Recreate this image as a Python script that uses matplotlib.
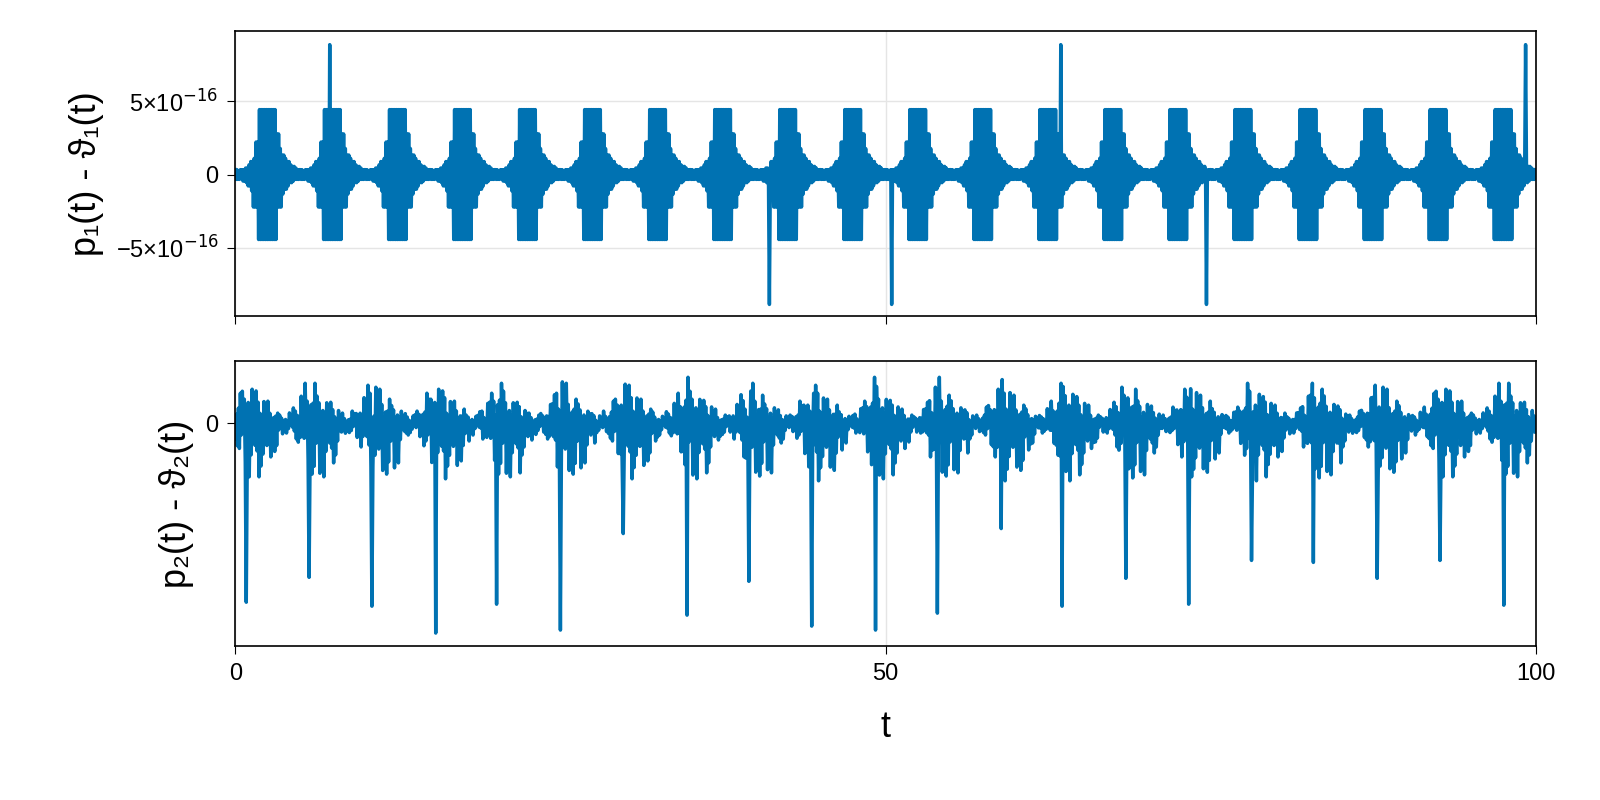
import numpy as np
import matplotlib.pyplot as plt

plt.rcParams["font.family"] = ["Liberation Sans", "DejaVu Sans"]

BLUE = "#0072B2"
EPS_UNIT = 1.11e-16

# top panel: one burst period (5 time units, 0.2 steps), in units of eps/2
period_top = 5.0
upper_top = [0.3, 0.2, 0.3, 0.3, 0.4, 0.6, 0.8, 1.0, 2.0, 4, 4, 4, 4, 4, 4, 4, 2.5, 1.6, 1.2, 1.0, 0.8, 0.6, 0.5, 0.4, 0.3]
lower_top = [-0.3, -0.3, -0.2, -0.4, -0.5, -0.7, -1.0, -2.0, -2.0, -4, -4, -4, -4, -4, -4, -4, -2.0, -2.0, -1.2, -0.9, -0.7, -0.5, -0.4, -0.3, -0.3]
spikes_top_t = [7.3, 63.5, 99.2, 41.1, 50.5, 74.7]
spikes_top_v = [8, 8, 8, -8, -8, -8]

# bottom panel: dip times and depths (arbitrary units, 0 line = 0)
dip_t = [0.85, 5.7, 10.5, 15.4, 20.1, 25.0, 29.8, 34.7, 39.5, 44.3, 49.2, 54.0, 58.9, 63.6, 68.5, 73.3, 78.1, 82.9, 87.8, 92.6, 97.5]
dip_v = [-180, -155, -184, -211, -182, -208, -111, -193, -159, -204, -208, -191, -106, -184, -156, -182, -138, -140, -156, -138, -183]
# noise envelope over one period (4.83 units, 16 steps), bursts centred near the dips
period_bot = 4.83
upper_bot = [22, 18, 14, 10, 8, 8, 12, 16, 22, 30, 40, 46, 40, 34, 28, 24]
lower_bot = [-50, -40, -30, -20, -12, -10, -10, -16, -24, -34, -44, -54, -58, -56, -54, -52]
jitter = [1.0, 0.35, 0.8, 0.15, 0.6, 0.9, 0.25, 0.7, 0.45, 1.0, 0.3, 0.55, 0.85, 0.2, 0.65, 0.4, 0.95, 0.5, 0.75]

fig, (ax1, ax2) = plt.subplots(2, 1, figsize=(16, 8), dpi=100, sharex=True)
fig.subplots_adjust(left=0.147, right=0.96, top=0.961, bottom=0.1925, hspace=0.16)

# build top zigzag
n_top = len(upper_top)
t_top, y_top = [], []
for k in range(int(100 / period_top)):
    for i in range(n_top):
        for j in range(3):
            t = k * period_top + (i + j / 3) * period_top / n_top
            t_top.append(t)
            y_top.append(upper_top[i] if (i * 3 + j) % 2 == 0 else lower_top[i])
t_top = np.array(t_top)
y_top = np.array(y_top, dtype=float)
for st, sv in zip(spikes_top_t, spikes_top_v):
    y_top[np.argmin(np.abs(t_top - st))] = sv
ax1.plot(t_top, y_top * EPS_UNIT, color=BLUE, lw=2.5)

# build bottom zigzag
n_bot = len(upper_bot)
t_bot, y_bot = [], []
idx = 0
start = dip_t[0] - period_bot * 11 / n_bot
k = 0
while start + k * period_bot < 100.5:
    for i in range(n_bot):
        for j in range(4):
            t = start + k * period_bot + (i + j / 4) * period_bot / n_bot
            if 0 <= t <= 100:
                m = jitter[idx % len(jitter)]
                v = upper_bot[i] * m if idx % 2 == 0 else lower_bot[i] * m
                t_bot.append(t)
                y_bot.append(v)
            idx += 1
    k += 1
t_bot = np.array(t_bot)
y_bot = np.array(y_bot, dtype=float)
for dt, dv in zip(dip_t, dip_v):
    y_bot[np.argmin(np.abs(t_bot - dt))] = dv
ax2.plot(t_bot, y_bot, color=BLUE, lw=2.5)

ax1.set_ylim(-9.66e-16, 9.8e-16)
ax1.set_yticks([-5e-16, 0, 5e-16])
ax1.set_yticklabels(["\u22125\u00d710$^{-16}$", "0", "5\u00d710$^{-16}$"])
ax2.set_ylim(-224, 62)
ax2.set_yticks([0])
ax2.set_yticklabels(["0"])

for ax in (ax1, ax2):
    ax.set_xlim(0, 100)
    ax.set_xticks([0, 50, 100])
    ax.grid(True, color="#e5e5e5", lw=1)
    ax.set_axisbelow(True)
    ax.tick_params(labelsize=17, length=6, pad=6)
    for s in ax.spines.values():
        s.set_linewidth(1.2)

ax1.set_ylabel("p\u2081(t) - \u03d1\u2081(t)", fontsize=26, labelpad=8)
ax2.set_ylabel("p\u2082(t) - \u03d1\u2082(t)", fontsize=26, labelpad=8)
ax2.set_xlabel("t", fontsize=26, labelpad=18)

fig.savefig("out.png", dpi=100)
